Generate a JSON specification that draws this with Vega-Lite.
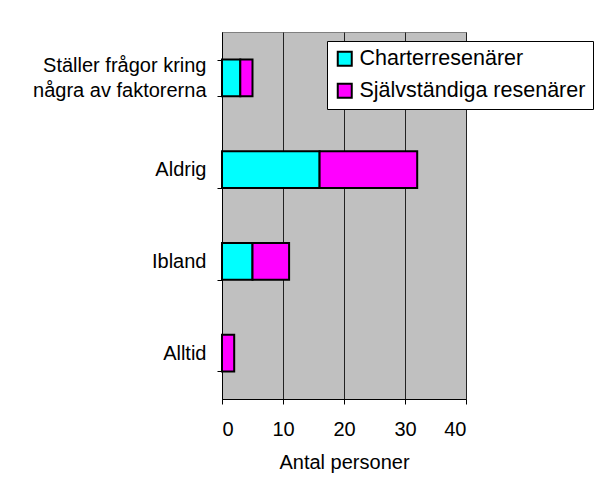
{
  "$schema": "https://vega.github.io/schema/vega-lite/v6.json",
  "width": 244,
  "height": 367,
  "autosize": {"type": "none"},
  "padding": {"left": 222, "top": 32, "right": 128, "bottom": 81},
  "background": "white",
  "data": {
    "values": [
      {"svar": "Ställer frågor kring några av faktorerna", "grupp": "Charterresenärer", "antal": 3},
      {"svar": "Ställer frågor kring några av faktorerna", "grupp": "Självständiga resenärer", "antal": 2},
      {"svar": "Aldrig", "grupp": "Charterresenärer", "antal": 16},
      {"svar": "Aldrig", "grupp": "Självständiga resenärer", "antal": 16},
      {"svar": "Ibland ", "grupp": "Charterresenärer", "antal": 5},
      {"svar": "Ibland ", "grupp": "Självständiga resenärer", "antal": 6},
      {"svar": "Alltid", "grupp": "Charterresenärer", "antal": 0},
      {"svar": "Alltid", "grupp": "Självständiga resenärer", "antal": 2}
    ]
  },
  "mark": {"type": "bar", "stroke": "black", "strokeWidth": 2},
  "encoding": {
    "y": {
      "field": "svar",
      "type": "nominal",
      "sort": ["Ställer frågor kring några av faktorerna", "Aldrig", "Ibland ", "Alltid"],
      "scale": {"paddingInner": 0.6, "paddingOuter": 0.3},
      "axis": {
        "title": null,
        "tickBand": "extent",
        "tickSize": 5,
        "tickColor": "black",
        "domainColor": "black",
        "labelFontSize": 20,
        "labelFont": "Liberation Sans",
        "labelColor": "black",
        "labelPadding": 11,
        "labelLineHeight": 25,
        "labelLimit": 0,
        "labelOffset": {"condition": {"test": "datum.value == 'Ställer frågor kring några av faktorerna'", "value": -12}, "value": 0},
        "labelExpr": "datum.label == 'Ställer frågor kring några av faktorerna' ? ['Ställer frågor kring', 'några av faktorerna'] : datum.label"
      }
    },
    "x": {
      "field": "antal",
      "type": "quantitative",
      "stack": "zero",
      "scale": {"domain": [0, 40], "nice": false},
      "axis": {
        "title": "Antal personer",
        "values": [0, 10, 20, 30, 40],
        "grid": true,
        "gridColor": "#222222",
        "gridWidth": 1,
        "tickSize": 5,
        "tickColor": "black",
        "domainColor": "black",
        "labelFontSize": 20,
        "labelFont": "Liberation Sans",
        "labelColor": "black",
        "labelPadding": 15,
        "titleFontSize": 20,
        "titleFont": "Liberation Sans",
        "titleFontWeight": "normal",
        "titleColor": "black",
        "titlePadding": 13
      }
    },
    "color": {
      "field": "grupp",
      "type": "nominal",
      "scale": {"domain": ["Charterresenärer", "Självständiga resenärer"], "range": ["#00FFFF", "#FF00FF"]},
      "legend": {
        "title": null,
        "orient": "none",
        "legendX": 105,
        "legendY": 9,
        "fillColor": "white",
        "strokeColor": "black",
        "padding": 7,
        "symbolType": "square",
        "symbolSize": 196,
        "symbolStrokeColor": "black",
        "symbolStrokeWidth": 2,
        "labelFontSize": 21.5,
        "labelFont": "Liberation Sans",
        "labelColor": "black",
        "labelOffset": 4,
        "labelLimit": 0,
        "rowPadding": 9
      }
    },
    "order": {"field": "grupp"}
  },
  "config": {
    "view": {"fill": "#C0C0C0", "stroke": "#808080", "strokeWidth": 1}
  }
}
